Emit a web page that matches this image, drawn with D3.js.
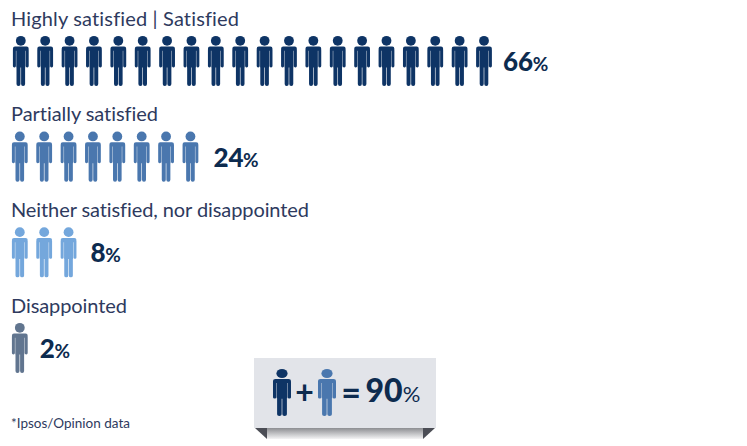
<!DOCTYPE html>
<html><head><meta charset="utf-8">
<script src="https://cdnjs.cloudflare.com/ajax/libs/d3/7.8.5/d3.min.js"></script>
<style>html,body{margin:0;padding:0;background:#fff}svg{display:block}text{font-family:Lato,sans-serif;font-variant-ligatures:none}</style>
</head><body><svg id="c" width="747" height="446"></svg>
<script>
const categories=["Highly satisfied | Satisfied","Partially satisfied","Neither satisfied, nor disappointed","Disappointed"];
const percents=[66,24,8,2];
const iconCounts=[20,8,3,1];
const iconColors=["#0e3465","#4a77ae","#74a7dc","#61758f"];
const labelWidths=[228,147,298,116];
const calloutTotal=90;
const footnote="*Ipsos/Opinion data";

const svg=d3.select("#c");
const col=d3.scaleLinear().domain([0,19]).range([20.8,484]);
const row=d3.scaleLinear().domain([0,3]).range([36,323]);
const rowShift=i=>i===0?0:-1;

function person(sel,color,h,sx){
  const s=h/50, k=sx||s;
  const p=d3.path();
  const rr=(x,y,w,ht,r)=>{p.moveTo(x+r,y);p.lineTo(x+w-r,y);p.quadraticCurveTo(x+w,y,x+w,y+r);p.lineTo(x+w,y+ht-r);p.quadraticCurveTo(x+w,y+ht,x+w-r,y+ht);p.lineTo(x+r,y+ht);p.quadraticCurveTo(x,y+ht,x,y+ht-r);p.lineTo(x,y+r);p.quadraticCurveTo(x,y,x+r,y);p.closePath();};
  rr(-4.5,10.6,9,21,0.5);      // torso
  rr(-4.3,29,4.0,21,1.9);      // left leg
  rr(0.3,29,4.0,21,1.9);       // right leg
  rr(-7.9,12,3,19.5,1.4);      // left arm
  rr(4.9,12,3,19.5,1.4);       // right arm
  rr(-7.9,10.6,15.8,4.2,2.1);  // shoulders
  sel.append("circle").attr("cx",0).attr("cy",4.8).attr("r",4.9).attr("fill",color).attr("transform",`scale(${k},${s})`);
  sel.append("path").attr("d",p.toString()).attr("fill",color).attr("transform",`scale(${k},${s})`);
}

categories.forEach((c,i)=>{
  const top=row(i);
  svg.append("text").attr("x",11).attr("y",top-10.5).attr("font-size",20).attr("fill","#2e3a5e")
    .attr("textLength",labelWidths[i]).attr("lengthAdjust","spacing").text(c);
  const g=svg.append("g");
  d3.range(iconCounts[i]).forEach(k=>{
    person(g.append("g").attr("transform",`translate(${col(k)+rowShift(i)},${top})`),iconColors[i],50);
  });
  const lx=col(iconCounts[i]-1)+rowShift(i)+(i===0?19:i===1?23:i===2?22:20);
  const t=svg.append("text").attr("x",lx).attr("y",top+35).attr("fill","#0d2b4f");
  t.append("tspan").attr("font-size",26).attr("font-weight",900).text(percents[i]);
  t.append("tspan").attr("font-size",19).attr("font-weight",700).attr("dx",-0.5).text("%");
});

// callout panel
const gr=svg.append("defs").append("linearGradient").attr("id","f").attr("x1",0).attr("x2",0).attr("y1",0).attr("y2",1);
gr.append("stop").attr("offset",0).attr("stop-color","#8d8e92");
gr.append("stop").attr("offset",1).attr("stop-color","#f4f4f5");
svg.append("rect").attr("x",267).attr("y",428).attr("width",156).attr("height",11).attr("fill","url(#f)");
svg.append("path").attr("d","M255,428L267,428L267,439Z").attr("fill","#4b4d55");
svg.append("path").attr("d","M435,428L423,428L423,439Z").attr("fill","#4b4d55");
svg.append("rect").attr("x",254).attr("y",358).attr("width",182).attr("height",70).attr("fill","#e2e4e9");
person(svg.append("g").attr("transform","translate(282,369)"),iconColors[0],47,1.14);
person(svg.append("g").attr("transform","translate(327,369)"),iconColors[1],47,1.14);
svg.append("text").attr("x",304.5).attr("y",403.5).attr("text-anchor","middle").attr("font-size",32).attr("font-weight",700).attr("fill","#0d2b4f").text("+");
svg.append("text").attr("x",351).attr("y",404.5).attr("text-anchor","middle").attr("font-size",34).attr("font-weight",700).attr("fill","#0d2b4f").text("=");
const tt=svg.append("text").attr("x",365.5).attr("y",402).attr("fill","#0d2b4f");
tt.append("tspan").attr("font-size",32).attr("font-weight",900).text(calloutTotal);
tt.append("tspan").attr("font-size",22).attr("font-weight",400).text("%");
svg.append("text").attr("x",11).attr("y",428).attr("font-size",13.5).attr("fill","#2e3a5e").text(footnote);
</script></body></html>
